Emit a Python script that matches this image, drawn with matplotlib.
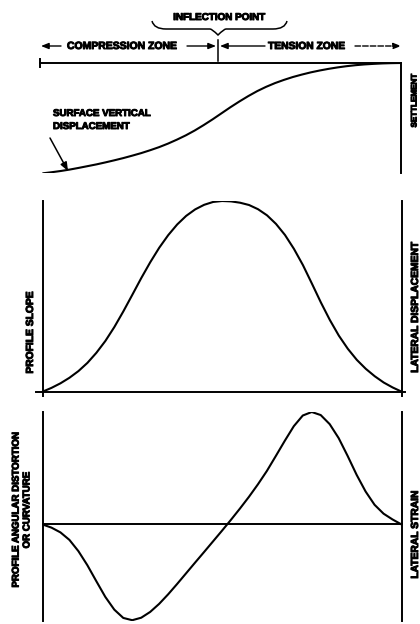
import matplotlib
matplotlib.use("Agg")
import matplotlib.pyplot as plt
import matplotlib.patheffects as pe
from matplotlib.path import Path
from matplotlib.patches import PathPatch

# ---------------- data ----------------
# Distance along the profile, normalised 0..1 (same stations for all three curves)
station = [0.000, 0.025, 0.050, 0.075, 0.100, 0.125, 0.150, 0.175, 0.200, 0.225, 0.250,
           0.275, 0.300, 0.325, 0.350, 0.375, 0.400, 0.425, 0.450, 0.475, 0.500, 0.525,
           0.550, 0.575, 0.600, 0.625, 0.650, 0.675, 0.700, 0.725, 0.750, 0.775, 0.800,
           0.825, 0.850, 0.875, 0.900, 0.925, 0.950, 0.975, 1.000]

# surface vertical displacement (settlement), 0 = no settlement, -1 = maximum
settlement = [-1.000, -0.990, -0.979, -0.966, -0.951, -0.935, -0.919, -0.901, -0.882, -0.862,
              -0.840, -0.817, -0.791, -0.763, -0.731, -0.695, -0.656, -0.612, -0.563, -0.511,
              -0.456, -0.401, -0.349, -0.300, -0.255, -0.216, -0.182, -0.153, -0.127, -0.105,
              -0.085, -0.068, -0.053, -0.040, -0.029, -0.020, -0.013, -0.008, -0.004, -0.0015,
              0.000]

# profile slope / lateral displacement
profile_slope = [0.000, 0.020, 0.044, 0.073, 0.108, 0.151, 0.204, 0.266, 0.339, 0.421, 0.508,
                 0.596, 0.679, 0.755, 0.821, 0.877, 0.922, 0.956, 0.980, 0.995, 1.000, 0.998,
                 0.991, 0.979, 0.957, 0.925, 0.880, 0.822, 0.749, 0.664, 0.567, 0.468, 0.376,
                 0.294, 0.225, 0.167, 0.120, 0.081, 0.048, 0.022, 0.000]

# profile curvature / lateral strain
curvature = [0.000, -0.028, -0.070, -0.136, -0.235, -0.359, -0.500, -0.638, -0.750, -0.823,
             -0.843, -0.821, -0.770, -0.699, -0.615, -0.524, -0.430, -0.336, -0.243, -0.149,
             -0.055, 0.041, 0.140, 0.243, 0.353, 0.471, 0.603, 0.737, 0.865, 0.959, 0.990,
             0.963, 0.883, 0.760, 0.603, 0.437, 0.290, 0.173, 0.095, 0.044, 0.000]

# ---------------- figure ----------------
W, H = 420, 624
fig = plt.figure(figsize=(W / 100, H / 100), dpi=100)
fig.patch.set_facecolor("white")

FONT = ["Liberation Sans", "DejaVu Sans"]
LW = 1.5
SW = 1.4


def box(x0, x1, y0, y1):
    """axes rectangle from pixel bounds (y measured from top)"""
    return [x0 / W, 1 - y1 / H, (x1 - x0) / W, (y1 - y0) / H]


def fx(px):
    return px / W


def fy(py):
    return 1 - py / H


# ---- panel 1: settlement ----
ax1 = fig.add_axes(box(40, 401, 63, 173.3))
ax1.plot(station, settlement, color="black", lw=LW, solid_capstyle="round")
ax1.set_xlim(-3 / 357, 1 + 1 / 357)
ax1.set_ylim(-1.0, 0.0)
for s in ["left", "bottom"]:
    ax1.spines[s].set_visible(False)
for s in ["top", "right"]:
    ax1.spines[s].set_linewidth(SW)
ax1.set_xticks([])
ax1.set_yticks([])
ax1.patch.set_alpha(0)
ax1.plot([0, 0], [1 - 4 / 110, 1 + 4 / 110], transform=ax1.transAxes, color="black",
         lw=SW, clip_on=False)

# ---- panel 2: profile slope ----
ax2 = fig.add_axes(box(36, 405, 201, 395.7))
ax2.plot(station, profile_slope, color="black", lw=LW, solid_capstyle="round")
ax2.set_xlim(-0.0181, 1.0092)
ax2.set_ylim(-0.021, 1.0)
ax2.spines["top"].set_visible(False)
ax2.spines["left"].set_position(("data", 0))
ax2.spines["right"].set_position(("data", 1))
ax2.spines["bottom"].set_position(("data", 0))
for s in ["left", "right", "bottom"]:
    ax2.spines[s].set_linewidth(SW)
ax2.set_xticks([])
ax2.set_yticks([])
ax2.patch.set_alpha(0)

# ---- panel 3: curvature ----
ax3 = fig.add_axes(box(42.5, 401.5, 412, 621))
ax3.plot(station, curvature, color="black", lw=LW, solid_capstyle="round")
ax3.set_xlim(0, 1)
ax3.set_ylim(-0.85, 0.99)
ax3.spines["top"].set_visible(False)
ax3.spines["bottom"].set_position(("data", 0))
for s in ["left", "right", "bottom"]:
    ax3.spines[s].set_linewidth(SW)
ax3.set_xticks([])
ax3.set_yticks([])
ax3.patch.set_alpha(0)

# ---------------- annotations ----------------
heavy = [pe.withStroke(linewidth=0.7, foreground="black")]
tkw = dict(family=FONT, weight="bold", color="black", path_effects=heavy)

fig.text(fx(219), fy(17), "INFLECTION POINT", ha="center", va="center", fontsize=7.1, **tkw)

# curly brace under "INFLECTION POINT"
bx0, bx1, bxm = 152, 287, 218
ytop, ymid, ytip = 21, 29, 35
verts = [(bx0, ytop), (bx0 + 2, ymid), (bx0 + 14, ymid),
         (bxm - 8, ymid), (bxm - 6, ymid), (bxm, ytip),
         (bxm + 6, ymid), (bxm + 8, ymid),
         (bx1 - 14, ymid), (bx1 - 2, ymid), (bx1, ytop)]
verts = [(fx(x), fy(y)) for x, y in verts]
codes = [Path.MOVETO, Path.CURVE3, Path.CURVE3,
         Path.LINETO, Path.CURVE3, Path.CURVE3,
         Path.CURVE3, Path.CURVE3,
         Path.LINETO, Path.CURVE3, Path.CURVE3]
fig.add_artist(PathPatch(Path(verts, codes), transform=fig.transFigure, fill=False,
                         lw=1.1, color="black"))

# zone row
yz = 46
fig.text(fx(67), fy(yz), "COMPRESSION ZONE", ha="left", va="center", fontsize=7.5, **tkw)
fig.text(fx(268), fy(yz), "TENSION ZONE", ha="left", va="center", fontsize=7.4, **tkw)

akw = dict(xycoords="figure fraction", textcoords="figure fraction")
ahead = "-|>,head_length=0.45,head_width=0.18"
ax1.annotate("", xy=(fx(41), fy(yz)), xytext=(fx(61), fy(yz)),
             arrowprops=dict(arrowstyle=ahead, color="black", lw=1.0, shrinkA=0, shrinkB=0),
             **akw)
ax1.annotate("", xy=(fx(216), fy(yz)), xytext=(fx(187), fy(yz)),
             arrowprops=dict(arrowstyle=ahead, color="black", lw=1.0, shrinkA=0, shrinkB=0),
             **akw)
ax1.annotate("", xy=(fx(220), fy(yz)), xytext=(fx(265), fy(yz)),
             arrowprops=dict(arrowstyle=ahead, color="black", lw=1.0, shrinkA=0, shrinkB=0),
             **akw)
ax1.annotate("", xy=(fx(401), fy(yz)), xytext=(fx(355), fy(yz)),
             arrowprops=dict(arrowstyle=ahead, color="black", lw=1.0,
                             linestyle=(0, (4, 1.5)), shrinkA=0, shrinkB=0), **akw)
fig.add_artist(plt.Line2D([fx(218), fx(218)], [fy(40), fy(61)], color="black", lw=1.1))

# surface vertical displacement label + arrow
fig.text(fx(53), fy(113), "SURFACE VERTICAL", ha="left", va="center", fontsize=7.0, **tkw)
fig.text(fx(53), fy(126), "DISPLACEMENT", ha="left", va="center", fontsize=7.0, **tkw)
ax1.annotate("", xy=(fx(68), fy(171)), xytext=(fx(50), fy(138)),
             arrowprops=dict(arrowstyle="-|>,head_length=0.5,head_width=0.2",
                             color="black", lw=1.1, shrinkA=0, shrinkB=0), **akw)

# side labels
fig.text(fx(415), fy(101), "SETTLEMENT", rotation=90, ha="center", va="center",
         fontsize=5.8, **tkw)
fig.text(fx(415), fy(308), "LATERAL DISPLACEMENT", rotation=90, ha="center", va="center",
         fontsize=7.4, **tkw)
fig.text(fx(415), fy(535), "LATERAL STRAIN", rotation=90, ha="center", va="center",
         fontsize=7.4, **tkw)
fig.text(fx(30), fy(333), "PROFILE SLOPE", rotation=90, ha="center", va="center",
         fontsize=7.4, **tkw)
fig.text(fx(21), fy(510), "PROFILE ANGULAR DISTORTION\nOR CURVATURE", rotation=90,
         ha="center", va="center", multialignment="center", linespacing=1.1,
         fontsize=7.0, **tkw)

fig.savefig("out.png", dpi=100, facecolor="white")
